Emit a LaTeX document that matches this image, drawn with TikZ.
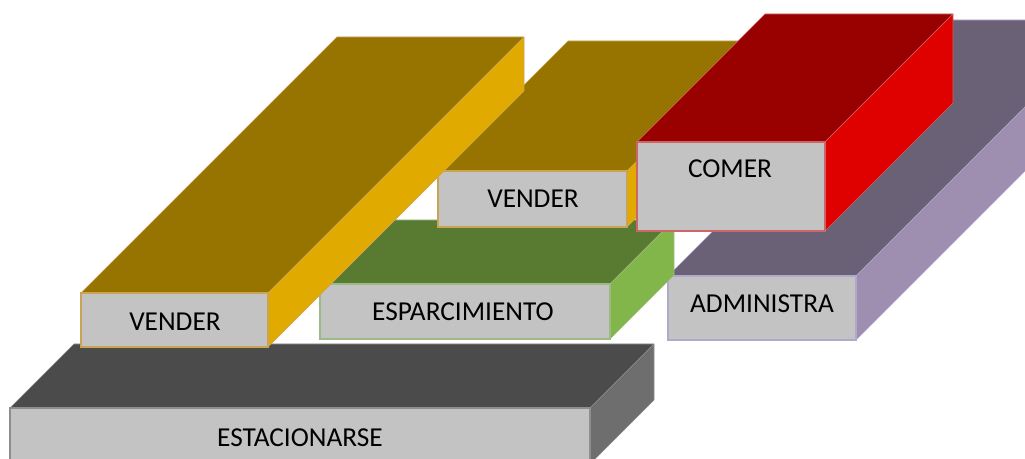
\documentclass[tikz,border=0pt]{standalone}
\usepackage{fontspec}
\setmainfont{Carlito}
\definecolor{goldtop}{HTML}{977400}
\definecolor{goldside}{HTML}{E1AA00}
\definecolor{goldline}{HTML}{C9A455}
\definecolor{greentop}{HTML}{597A31}
\definecolor{greenside}{HTML}{83B64A}
\definecolor{greenline}{HTML}{9DBA84}
\definecolor{redtop}{HTML}{990000}
\definecolor{redside}{HTML}{DF0000}
\definecolor{redline}{HTML}{CC6666}
\definecolor{purtop}{HTML}{6A6177}
\definecolor{purside}{HTML}{9E8EB0}
\definecolor{purline}{HTML}{B4A8C8}
\definecolor{drktop}{HTML}{4B4B4B}
\definecolor{drkside}{HTML}{6E6E6E}
\definecolor{drkline}{HTML}{8E8E8E}
\definecolor{frontgray}{HTML}{C3C3C3}
\newcommand\cajabox[6]{% x1,y1,x2,y2,depth,prefix
  \filldraw[fill=#6top,draw=#6line,line width=0.4pt,line join=round]
    (#1,#2) -- ({#1+#5},{#2-#5}) -- ({#3+#5},{#2-#5}) -- (#3,#2) -- cycle;
  \filldraw[fill=#6side,draw=#6line,line width=0.4pt,line join=round]
    (#3,#2) -- ({#3+#5},{#2-#5}) -- ({#3+#5},{#4-#5}) -- (#3,#4) -- cycle;
  \filldraw[fill=frontgray,draw=#6line,line width=1.2pt]
    (#1,#2) rectangle (#3,#4);
}
\tikzset{lbl/.style={inner sep=0pt,anchor=center,font=\fontsize{20.5pt}{24pt}\selectfont,text=black}}
\begin{document}
\begin{tikzpicture}[x=0.75pt,y=-0.75pt]
\useasboundingbox (0,0) rectangle (1025,459);
\begin{scope}
\clip (0,0) rectangle (1025,459);
% ESTACIONARSE
\cajabox{10}{408}{590}{464}{64}{drk}
\node[lbl] (est) at (300,438) {ESTACIONARSE};
% ADMINISTRA
\cajabox{668}{276}{856}{340}{256}{pur}
\node[lbl] (adm) at (762,304) {ADMINISTRA};
% ESPARCIMIENTO
\cajabox{320}{284}{610}{339}{64}{green}
\node[lbl] (esp) at (463,312) {ESPARCIMIENTO};
% VENDER 2
\cajabox{438}{171}{627}{227}{130}{gold}
\node[lbl] (ven2) at (533,199) {VENDER};
% COMER
\cajabox{637}{142}{825}{231}{128}{red}
\node[lbl] (com) at (730,169) {COMER};
% VENDER 1
\cajabox{81}{293}{268}{347}{256}{gold}
\node[lbl] (ven1) at (175,322) {VENDER};
\end{scope}
\end{tikzpicture}
\end{document}
